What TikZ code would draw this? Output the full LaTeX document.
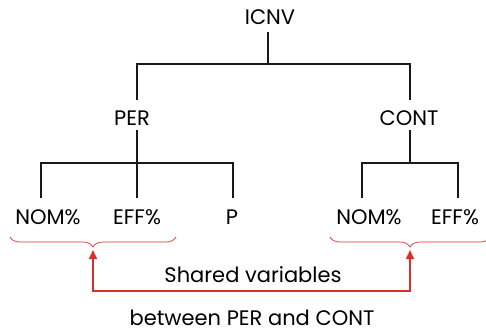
\documentclass[tikz,border=0pt]{standalone}
\usepackage{fontspec}
\setmainfont{Poppins}
\usepackage{tikz}
\usetikzlibrary{arrows.meta, positioning, calc, decorations.pathreplacing}
\definecolor{BraceRed}{HTML}{D9302C}

\begin{document}
\begin{tikzpicture}[
  x=1pt, y=-1pt,
  label/.style={inner sep=0pt, font=\fontsize{21}{24}\selectfont},
  branch/.style={line width=1.3pt, black!90},
  stem/.style={line width=2pt, black!90},
  redbrace/.style={BraceRed, line width=0.7pt,
    decorate, decoration={brace, mirror, amplitude=10pt}},
  >={Triangle[length=9pt, width=8pt]}
]
  \useasboundingbox (0,0) rectangle (486,332);
  % tree labels
  \node[label] (icnv) at (270,17) {ICNV};
  \node[label] (per) at (132,118) {PER};
  \node[label] (cont) at (409,118) {CONT};
  \node[label] (nom1) at (48,217) {NOM\%};
  \node[label] (eff1) at (137,217) {EFF\%};
  \node[label] (p) at (232,217) {P};
  \node[label] (nom2) at (369,217) {NOM\%};
  \node[label] (eff2) at (455,217) {EFF\%};
  % junctions
  \coordinate (j0) at (268,64);
  \coordinate (j1) at (137,163);
  \coordinate (j2) at (410,163);
  % ICNV -> PER, CONT
  \draw[stem] (268,32) -- (j0);
  \draw[branch] (137,64) -- (410,64);
  \draw[stem] (137,63.4) -- (137,100);
  \draw[stem] (410,63.4) -- (410,100);
  % PER -> leaves
  \draw[stem] (137,130) -- (j1);
  \draw[branch] (41,163) -- (233,163);
  \draw[branch] (41,162.4) -- (41,198);
  \draw[stem] (137,163) -- (137,198);
  \draw[stem] (233,162.4) -- (233,198);
  % CONT -> leaves
  \draw[stem] (410,130) -- (j2);
  \draw[branch] (362,163) -- (458,163);
  \draw[branch] (362,162.4) -- (362,198);
  \draw[stem] (458,162.4) -- (458,198);
  % shared variables
  \draw[redbrace] (10,237) -- coordinate[pos=0.5] (b1) (176,237);
  \draw[redbrace] (330,237) -- coordinate[pos=0.5] (b2) (490,237);
  \coordinate (t1) at (93,250);
  \coordinate (t2) at (410,250);
  \draw[<->, BraceRed, line width=1.6pt] (t1) -- (93,291) -- (410,291) -- (t2);
  \node[label] (shared) at (253,275) {Shared variables};
  \node[label] (between) at (252,318) {between PER and CONT};
\end{tikzpicture}
\end{document}
